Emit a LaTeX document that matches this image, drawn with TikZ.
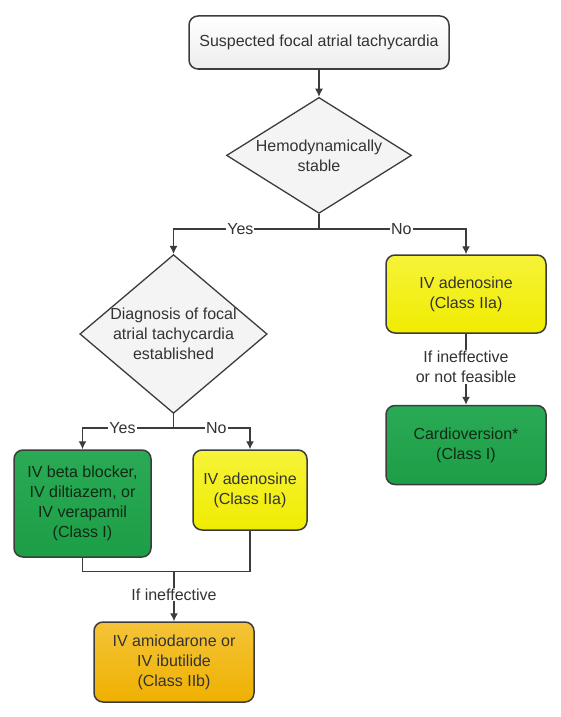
\documentclass[tikz,border=0pt]{standalone}
\usepackage{fontspec}
\setmainfont{Liberation Sans}
\usepackage[dvipsnames]{xcolor}
\definecolor{edge}{HTML}{3C3C3C}
\definecolor{ink}{HTML}{333333}
\definecolor{greenbox}{HTML}{1C9E46}
\definecolor{greentop}{HTML}{2AAA55}
\definecolor{greenink}{HTML}{0F2A15}
\definecolor{yellowbox}{HTML}{F0EC00}
\definecolor{yellowtop}{HTML}{F6F33A}
\definecolor{orangebox}{HTML}{EFB000}
\definecolor{orangetop}{HTML}{F4C438}
\definecolor{greybox}{HTML}{EDEDED}
\tikzstyle{step box} = [draw=edge, rectangle, rounded corners=9pt, line width=1.5pt, align=center, text=ink]
\tikzstyle{decision} = [draw=edge, diamond, line width=1.3pt, inner sep=0pt, align=center, fill=greybox!60, text=ink]
\tikzstyle{lbl} = [fill=white, inner sep=1pt, text=ink]
\tikzstyle{arrow} = [-{Latex[length=8pt, width=8pt]}]
\usetikzlibrary{positioning, arrows.meta, shapes.geometric}

\begin{document}
\begin{tikzpicture}[x=1pt, y=-1pt, draw=edge, line width=1.3pt, font=\fontsize{16}{20}\selectfont]
	\useasboundingbox (0,0) rectangle (560,717);
	%diagram
	\node[step box, minimum width=260pt, minimum height=53pt, top color=white, bottom color=greybox] (suspect) at (319,42.5) {Suspected focal atrial tachycardia};
	\node[decision, below=27pt of suspect, minimum width=185pt, minimum height=116pt, aspect=1.6] (stable) {Hemodynamically\\stable};
	\node[decision, minimum width=187pt, minimum height=158pt, aspect=1.18] (diagnosis) at (173.5,334) {Diagnosis of focal\\atrial tachycardia\\established};
	\node[step box, minimum width=160pt, minimum height=78pt, top color=yellowtop, bottom color=yellowbox] (adenoR) at (466,294) {IV adenosine\\(Class IIa)};
	\node[step box, below=71pt of adenoR, minimum width=160pt, minimum height=79pt, top color=greentop, bottom color=greenbox, text=greenink] (cardio) {Cardioversion*\\(Class I)};
	\node[step box, minimum width=137pt, minimum height=107pt, top color=greentop, bottom color=greenbox, text=greenink] (blocker) at (82.5,503.5) {IV beta blocker,\\IV diltiazem, or\\IV verapamil\\(Class I)};
	\node[step box, minimum width=114pt, minimum height=80pt, top color=yellowtop, bottom color=yellowbox] (adenoL) at (250,490) {IV adenosine\\(Class IIa)};
	\node[step box, minimum width=160pt, minimum height=80pt, top color=orangetop, bottom color=orangebox] (amio) at (174,662) {IV amiodarone or\\IV ibutilide\\(Class IIb)};

	%connectors
	\draw[arrow] (suspect) -- (stable);
	\draw (stable.south) -- ++(0,15) coordinate (split1);
	\draw[arrow] (split1) -| node[lbl, pos=0.27] {Yes} (diagnosis.north);
	\draw[arrow] (split1) -| node[lbl, pos=0.28] {No} (adenoR.north);
	\draw (diagnosis.south) -- ++(0,14) coordinate (split2);
	\draw[arrow] (split2) -| node[lbl, pos=0.28] {Yes} (blocker.north);
	\draw[arrow] (split2) -| node[lbl, pos=0.28] {No} (adenoL.north);
	\draw[arrow] (adenoR) -- node[lbl, align=center, yshift=2pt] {If ineffective\\or not feasible} (cardio);
	\draw (blocker.south) -- ++(0,14) coordinate (merge) -| (adenoL.south);
	\draw[arrow] (amio.north |- merge) -- node[lbl, yshift=2pt] {If ineffective} (amio.north);
\end{tikzpicture}
\end{document}
